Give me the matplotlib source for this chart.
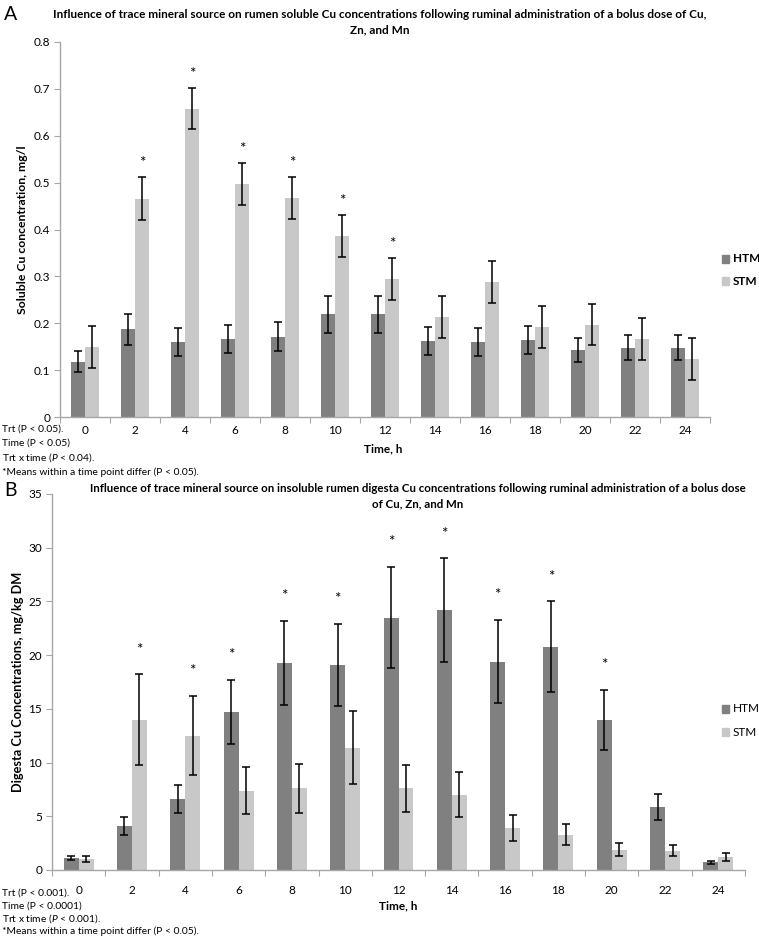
import matplotlib
matplotlib.use("Agg")
import matplotlib.pyplot as plt
import numpy as np

plt.rcParams['font.family'] = ['Lato', 'DejaVu Sans']
plt.rcParams['mathtext.fontset'] = 'custom'
plt.rcParams['mathtext.it'] = 'Lato:italic'
plt.rcParams['mathtext.rm'] = 'Lato'

time_labels = ['0', '2', '4', '6', '8', '10', '12', '14', '16', '18', '20', '22', '24']
series_names = ['HTM', 'STM']

# Panel A: soluble Cu, mg/l
a_htm = [0.118, 0.187, 0.160, 0.167, 0.171, 0.219, 0.219, 0.163, 0.160, 0.164, 0.143, 0.148, 0.148]
a_htm_err = [0.022, 0.033, 0.030, 0.030, 0.031, 0.040, 0.040, 0.030, 0.030, 0.030, 0.026, 0.027, 0.027]
a_stm = [0.150, 0.466, 0.658, 0.497, 0.467, 0.386, 0.295, 0.213, 0.288, 0.192, 0.197, 0.166, 0.123]
a_stm_err = [0.045, 0.045, 0.044, 0.045, 0.044, 0.045, 0.045, 0.045, 0.045, 0.045, 0.044, 0.045, 0.045]
a_star = ['', 'STM', 'STM', 'STM', 'STM', 'STM', 'STM', '', '', '', '', '', '']

# Panel B: digesta Cu, mg/kg DM
b_htm = [1.1, 4.1, 6.6, 14.7, 19.3, 19.1, 23.5, 24.2, 19.4, 20.8, 14.0, 5.9, 0.7]
b_htm_err = [0.2, 0.8, 1.3, 3.0, 3.9, 3.8, 4.7, 4.8, 3.9, 4.2, 2.8, 1.2, 0.15]
b_stm = [1.0, 14.0, 12.5, 7.4, 7.6, 11.4, 7.6, 7.0, 3.9, 3.3, 1.9, 1.8, 1.2]
b_stm_err = [0.3, 4.2, 3.7, 2.2, 2.3, 3.4, 2.2, 2.1, 1.2, 1.0, 0.6, 0.5, 0.35]
b_star = ['', 'STM', 'STM', 'HTM', 'HTM', 'HTM', 'HTM', 'HTM', 'HTM', 'HTM', 'HTM', '', '']

W, H = 759, 941
fig = plt.figure(figsize=(W / 100, H / 100), dpi=100)

def fx(px):
    return px / W

def fy(py):
    return 1 - py / H

C_HTM = '#808080'
C_STM = '#c8c8c8'
AX_GRAY = '#a6a6a6'

def draw_panel(ax, htm, htm_err, stm, stm_err, stars, ymax, ystep, star_off, yfmt, xpad):
    x = np.arange(len(time_labels))
    bw = 0.28
    ekw = dict(ecolor='black', elinewidth=1.1, capsize=3.2, capthick=1.1)
    ax.bar(x - bw / 2, htm, bw, color=C_HTM, yerr=htm_err, error_kw=ekw, zorder=2)
    ax.bar(x + bw / 2, stm, bw, color=C_STM, yerr=stm_err, error_kw=ekw, zorder=2)
    for i, s in enumerate(stars):
        if s == 'HTM':
            ax.text(x[i] - bw / 2, htm[i] + htm_err[i] + star_off, '*', ha='center', va='center', fontsize=11)
        elif s == 'STM':
            ax.text(x[i] + bw / 2, stm[i] + stm_err[i] + star_off, '*', ha='center', va='center', fontsize=11)
    ax.set_xlim(-0.5, len(time_labels) - 0.5)
    ax.set_ylim(0, ymax)
    ax.set_xticks(np.arange(-0.5, len(time_labels)), labels=[])
    ax.set_xticks(x, labels=time_labels, minor=True)
    ax.tick_params(axis='x', which='major', length=4, color=AX_GRAY, direction='out')
    ax.tick_params(axis='x', which='minor', length=0, labelsize=8.5, pad=xpad)
    yt = np.arange(0, ymax + ystep / 2, ystep)
    ax.set_yticks(yt, labels=[yfmt(v) for v in yt])
    ax.tick_params(axis='y', length=4, color=AX_GRAY, labelsize=8.5, pad=3)
    for sp in ['top', 'right']:
        ax.spines[sp].set_visible(False)
    for sp in ['left', 'bottom']:
        ax.spines[sp].set_color(AX_GRAY)
        ax.spines[sp].set_linewidth(1.0)

# Panel A
axA = fig.add_axes([fx(60), fy(417), fx(650), (417 - 42) / H])
draw_panel(axA, a_htm, a_htm_err, a_stm, a_stm_err, a_star, 0.8, 0.1, 0.03,
           lambda v: '0' if v == 0 else f'{v:.1f}', 6)
axA.set_ylabel('Soluble Cu concentration, mg/l', fontsize=8.8, fontweight='bold', labelpad=4)

# Panel B
axB = fig.add_axes([fx(52), fy(870), fx(693), (870 - 494) / H])
draw_panel(axB, b_htm, b_htm_err, b_stm, b_stm_err, b_star, 35, 5, 2.3,
           lambda v: f'{int(v)}', 11)
axB.set_ylabel('Digesta Cu Concentrations, mg/kg DM', fontsize=9.2, fontweight='bold', labelpad=3)

title_font = ['Liberation Sans Narrow', 'Lato', 'DejaVu Sans']

# Panel letters
fig.text(fx(4), fy(15), 'A', fontsize=14, va='center', ha='left')
fig.text(fx(4), fy(490), 'B', fontsize=14, va='center', ha='left')

# Titles
fig.text(fx(380), fy(15), 'Influence of trace mineral source on rumen soluble Cu concentrations following ruminal administration of a bolus dose of Cu,',
         fontsize=8.5, fontweight='bold', ha='center', va='center', family=title_font)
fig.text(fx(380), fy(30), 'Zn, and Mn', fontsize=8.5, fontweight='bold', ha='center', va='center', family=title_font)
fig.text(fx(418), fy(488), 'Influence of trace mineral source on insoluble rumen digesta Cu concentrations following ruminal administration of a bolus dose',
         fontsize=8.3, fontweight='bold', ha='center', va='center', family=title_font)
fig.text(fx(418), fy(504), 'of Cu, Zn, and Mn', fontsize=8.3, fontweight='bold', ha='center', va='center', family=title_font)

# X axis labels
fig.text(fx(383), fy(449), 'Time, h', fontsize=8.5, fontweight='bold', ha='center', va='center')
fig.text(fx(398), fy(906), 'Time, h', fontsize=8.5, fontweight='bold', ha='center', va='center')

# Legends
for (ypx, name, col) in [(259, 'HTM', C_HTM), (281, 'STM', C_STM)]:
    fig.patches.append(plt.Rectangle((fx(722), fy(ypx + 4)), fx(7), 8 / H, color=col, transform=fig.transFigure))
    fig.text(fx(733), fy(ypx), name, fontsize=8.5, fontweight='bold', ha='left', va='center')
for (ypx, name, col) in [(709, 'HTM', C_HTM), (732, 'STM', C_STM)]:
    fig.patches.append(plt.Rectangle((fx(722), fy(ypx + 4)), fx(7), 8 / H, color=col, transform=fig.transFigure))
    fig.text(fx(733), fy(ypx), name, fontsize=8.5, ha='left', va='center')

# Footnotes
notesA = ['Trt (P < 0.05).', 'Time (P < 0.05)', r'Trt x time ($\it{P}$ < 0.04).', '*Means within a time point differ (P < 0.05).']
notesB = ['Trt (P < 0.001).', 'Time (P < 0.0001)', r'Trt x time ($\it{P}$ < 0.001).', '*Means within a time point differ (P < 0.05).']
for i, t in enumerate(notesA):
    fig.text(fx(2), fy(429 + 14.3 * i), t, fontsize=7.4, ha='left', va='center')
for i, t in enumerate(notesB):
    fig.text(fx(2), fy(893 + 12.7 * i), t, fontsize=7.4, ha='left', va='center')

fig.savefig('out.png', dpi=100)
